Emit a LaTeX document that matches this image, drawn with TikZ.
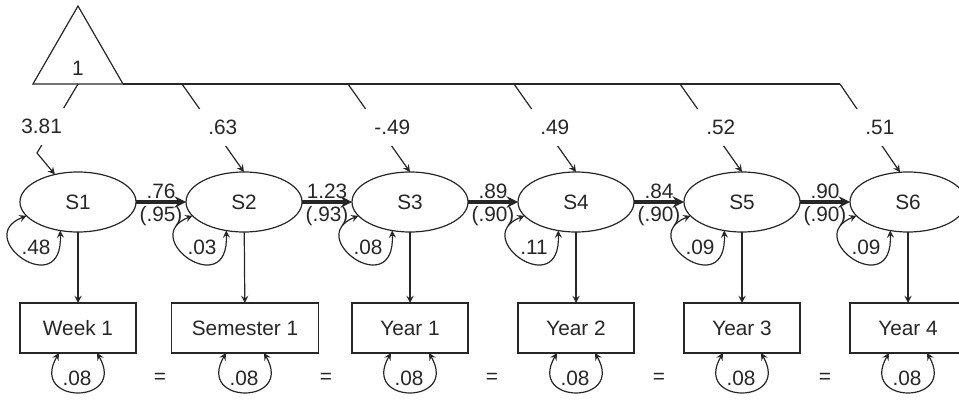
\documentclass[tikz,border=0pt]{standalone}
\usepackage{fontspec}
\setmainfont{Liberation Sans}
\usetikzlibrary{shapes.geometric,calc}

\begin{document}
\begin{tikzpicture}[>=stealth,x=.5pt,y=-.5pt,inner sep=0pt,outer sep=0pt,line width=.6pt,color=black!85,
  font=\fontsize{10.4}{12}\selectfont,
  latent/.style={ellipse,draw,minimum width=58pt,minimum height=30pt},
  obs/.style={rectangle,draw,minimum width=58pt,minimum height=25pt,inner xsep=10pt},
  lag/.style={->,line width=1.5pt},
  brk/.style={fill=white,inner xsep=7pt,inner ysep=5.6pt,anchor=west,xshift=-9pt}]
  \useasboundingbox (0,0) rectangle (959,401);
  \node[regular polygon,regular polygon sides=3,draw,minimum size=52pt] (one) at (78,58) {};
  \node (onelbl) at (78,68) {1};
  \node[latent] (S1) at (78,202)  {S1};
  \node[latent] (S2) at (244,202) {S2};
  \node[latent] (S3) at (410,202) {S3};
  \node[latent] (S4) at (576,202) {S4};
  \node[latent] (S5) at (742,202) {S5};
  \node[latent] (S6) at (908,202) {S6};
  \node[obs] (W1) at (78,328)   {Week 1};
  \node[obs] (Sem1) at (245,328) {Semester 1};
  \node[obs] (Y1) at (410,328)  {Year 1};
  \node[obs] (Y2) at (576,328)  {Year 2};
  \node[obs] (Y3) at (742,328)  {Year 3};
  \node[obs] (Y4) at (908,328)  {Year 4};
  \node (eq1) at (160,378) {=};
  \node (eq2) at (326,378) {=};
  \node (eq3) at (492,378) {=};
  \node (eq4) at (659,378) {=};
  \node (eq5) at (825,378) {=};
  \coordinate (b2) at (182,84);
  \coordinate (b3) at (348,84);
  \coordinate (b4) at (514,84);
  \coordinate (b5) at (680,84);
  \coordinate (b6) at (840,84);
  \coordinate (k1) at (37,153);
  \draw (one.corner 3) -- (b6);
  \draw[->] (one.side 2) -- node[brk,pos=.62,anchor=center,xshift=3.5pt] {3.81} (k1) -- (S1.130);
  \draw[->] (b2) -- node[brk,pos=.49] {.63} (S2.north);
  \draw[->] (b3) -- node[brk,pos=.49] {-.49} (S3.north);
  \draw[->] (b4) -- node[brk,pos=.49] {.49} (S4.north);
  \draw[->] (b5) -- node[brk,pos=.49] {.52} (S5.north);
  \draw[->] (b6) -- node[brk,pos=.49] {.51} (S6.105);
  \draw[lag] (S1) -- node[above=1.5pt] {.76} node[below=2pt] {(.95)} (S2);
  \draw[lag] (S2) -- node[above=1.5pt] {1.23} node[below=2pt] {(.93)} (S3);
  \draw[lag] (S3) -- node[above=1.5pt] {.89} node[below=2pt] {(.90)} (S4);
  \draw[lag] (S4) -- node[above=1.5pt] {.84} node[below=2pt] {(.90)} (S5);
  \draw[lag] (S5) -- node[above=1.5pt] {.90} node[below=2pt] {(.90)} (S6);
  \draw[->] (S1) -- (W1);
  \draw[->] (S2) -- (Sem1);
  \draw[->] (S3) -- (Y1);
  \draw[->] (S4) -- (Y2);
  \draw[->] (S5) -- (Y3);
  \draw[->] (S6) -- (Y4);
  \draw[<->] (S1.195) .. controls +(-55,22) and +(3,72) .. (S1.238);
  \draw[<->] (S2.195) .. controls +(-55,22) and +(3,72) .. (S2.238);
  \draw[<->] (S3.195) .. controls +(-55,22) and +(3,72) .. (S3.238);
  \draw[<->] (S4.195) .. controls +(-55,22) and +(3,72) .. (S4.238);
  \draw[<->] (S5.195) .. controls +(-55,22) and +(3,72) .. (S5.238);
  \draw[<->] (S6.195) .. controls +(-55,22) and +(3,72) .. (S6.238);
  \node (v1) at ($(S1)+(-42,45)$) {.48};
  \node (v2) at ($(S2)+(-42,45)$) {.03};
  \node (v3) at ($(S3)+(-42,45)$) {.08};
  \node (v4) at ($(S4)+(-42,45)$) {.11};
  \node (v5) at ($(S5)+(-42,45)$) {.09};
  \node (v6) at ($(S6)+(-42,45)$) {.09};
  \draw[<->] ($(W1.south)+(-19,0)$) .. controls +(-30,52) and +(30,52) .. ($(W1.south)+(19,0)$);
  \draw[<->] ($(Sem1.south)+(-19,0)$) .. controls +(-30,52) and +(30,52) .. ($(Sem1.south)+(19,0)$);
  \draw[<->] ($(Y1.south)+(-19,0)$) .. controls +(-30,52) and +(30,52) .. ($(Y1.south)+(19,0)$);
  \draw[<->] ($(Y2.south)+(-19,0)$) .. controls +(-30,52) and +(30,52) .. ($(Y2.south)+(19,0)$);
  \draw[<->] ($(Y3.south)+(-19,0)$) .. controls +(-30,52) and +(30,52) .. ($(Y3.south)+(19,0)$);
  \draw[<->] ($(Y4.south)+(-19,0)$) .. controls +(-30,52) and +(30,52) .. ($(Y4.south)+(19,0)$);
  \node (e1) at ($(W1.south)+(-1,25)$) {.08};
  \node (e2) at ($(Sem1.south)+(-1,25)$) {.08};
  \node (e3) at ($(Y1.south)+(-1,25)$) {.08};
  \node (e4) at ($(Y2.south)+(-1,25)$) {.08};
  \node (e5) at ($(Y3.south)+(-1,25)$) {.08};
  \node (e6) at ($(Y4.south)+(-1,25)$) {.08};
\end{tikzpicture}
\end{document}
